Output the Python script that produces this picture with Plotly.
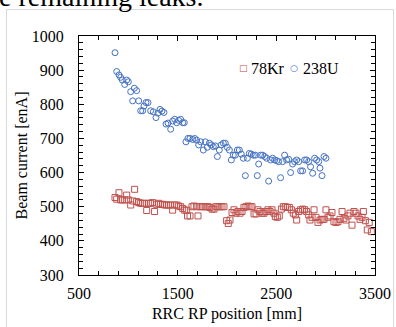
import plotly.graph_objects as go

# 238U (blue circles)
u_x = [865, 882, 905, 922, 939, 963, 983, 1000, 1024, 1044, 1061, 1084, 1105, 1125, 1145, 1159,
       1179, 1199, 1226, 1253, 1280, 1300, 1321, 1341, 1361, 1382, 1402, 1429, 1449, 1470, 1490,
       1510, 1530, 1551, 1567, 1584, 1604, 1625, 1652, 1672, 1692, 1713, 1733, 1760, 1780, 1800,
       1821, 1841, 1861, 1882, 1902, 1922, 1942, 1963, 1983, 2003, 2024, 2044, 2064, 2084, 2105,
       2125, 2145, 2165, 2186, 2206, 2226, 2246, 2267, 2287, 2307, 2321, 2341, 2361, 2382, 2402,
       2422, 2442, 2462, 2483, 2503, 2523, 2543, 2564, 2584, 2604, 2625, 2645, 2665, 2685, 2706,
       2726, 2746, 2766, 2787, 2807, 2827, 2847, 2868, 2888, 2908, 2929, 2942, 2963, 2983, 3003]
u_y = [951, 896, 886, 879, 871, 858, 871, 866, 837, 810, 847, 840, 810, 781, 781, 795,
       805, 805, 781, 778, 761, 774, 785, 780, 776, 742, 745, 727, 751, 756, 746,
       753, 756, 746, 746, 690, 700, 700, 697, 700, 695, 681, 690, 666, 690, 674,
       686, 681, 676, 678, 647, 666, 681, 686, 686, 674, 666, 637, 651, 651, 666,
       666, 654, 642, 591, 642, 656, 654, 651, 651, 591, 625, 651, 651, 647, 642,
       575, 637, 642, 637, 635, 632, 585, 632, 651, 637, 639, 600, 625, 632, 637,
       632, 605, 605, 637, 637, 632, 617, 598, 642, 637, 632, 613, 591, 647, 642]

# 78Kr (red squares)
kr_x = [865, 882, 905, 922, 939, 963, 983, 1000, 1024, 1044, 1064, 1084, 1105, 1125, 1145, 1166,
        1186, 1206, 1226, 1246, 1266, 1287, 1307, 1327, 1348, 1368, 1388, 1408, 1429, 1449, 1469,
        1490, 1510, 1530, 1551, 1571, 1591, 1600, 1625, 1645, 1665, 1692, 1706, 1726, 1746, 1767,
        1787, 1807, 1827, 1848, 1868, 1888, 1908, 1929, 1949, 1969, 1996, 2013, 2030, 2051, 2071,
        2091, 2111, 2132, 2152, 2172, 2192, 2213, 2233, 2253, 2274, 2294, 2314, 2334, 2355, 2375,
        2395, 2415, 2436, 2456, 2476, 2490, 2510, 2530, 2551, 2571, 2591, 2611, 2632, 2652, 2672,
        2693, 2706, 2726, 2746, 2767, 2787, 2807, 2828, 2841, 2862, 2882, 2902, 2922, 2943, 2963,
        2983, 3003, 3024, 3044, 3064, 3084, 3105, 3125, 3145, 3166, 3186, 3206, 3226, 3247, 3267,
        3287, 3307, 3328, 3348, 3368, 3382, 3402, 3422, 3442, 3463]
kr_y = [527, 522, 541, 520, 520, 520, 534, 520, 505, 517, 551, 515, 512, 510, 510, 510,
        489, 510, 510, 512, 486, 507, 510, 507, 507, 505, 505, 505, 505, 490, 505,
        505, 502, 500, 495, 490, 490, 473, 473, 500, 502, 500, 473, 500, 500, 500,
        500, 500, 498, 493, 493, 500, 500, 500, 500, 500, 459, 451, 461, 483, 491,
        481, 486, 481, 486, 498, 500, 502, 500, 500, 479, 479, 491, 486, 481, 481,
        486, 491, 486, 491, 481, 471, 469, 473, 493, 500, 500, 498, 498, 491, 481,
        476, 461, 486, 491, 493, 491, 486, 476, 461, 469, 491, 469, 454, 461, 463,
        463, 491, 469, 473, 483, 456, 454, 456, 463, 486, 466, 461, 473, 481, 446,
        486, 481, 473, 463, 469, 486, 459, 432, 454, 427]

series_names = ["78Kr", "238U"]
x_ticks = [500, 1500, 2500, 3500]
y_ticks = [300, 400, 500, 600, 700, 800, 900, 1000]

RED = "#C0504D"
BLUE = "#4472C4"
FONT = "Liberation Serif"

fig = go.Figure()
fig.add_trace(go.Scatter(x=kr_x, y=kr_y, mode="markers", name=series_names[0],
                         marker=dict(symbol="square-open", size=6, color=RED,
                                     line=dict(width=1, color=RED))))
fig.add_trace(go.Scatter(x=u_x, y=u_y, mode="markers", name=series_names[1],
                         marker=dict(symbol="circle-open", size=6, color=BLUE,
                                     line=dict(width=1, color=BLUE))))

W, H = 396, 327
L, R, T, B = 79, 21, 36, 52
pw, ph = W - L - R, H - T - B

def px(xp):
    return (xp - L) / pw

def py(yp):
    return (H - B - yp) / ph

# compact legend (symbol right next to its label)
legend_ann = []
for sym, col, name, sx, tx in [("□", RED, series_names[0], 243, 249),
                               ("○", BLUE, series_names[1], 294, 301)]:
    legend_ann.append(dict(text=sym, xref="paper", yref="paper", x=px(sx), y=py(68),
                           xanchor="center", yanchor="middle", showarrow=False,
                           font=dict(family="DejaVu Sans", size=9, color=col)))
    legend_ann.append(dict(text=name, xref="paper", yref="paper", x=px(tx), y=py(68),
                           xanchor="left", yanchor="middle", showarrow=False,
                           font=dict(family=FONT, size=16, color="black")))

fig.update_layout(
    width=W, height=H,
    margin=dict(l=L, r=R, t=T, b=B, autoexpand=False),
    paper_bgcolor="white", plot_bgcolor="white",
    font=dict(family=FONT, size=16, color="black"),
    showlegend=False,
    xaxis=dict(range=[500, 3500], tickvals=x_ticks, ticks="inside", ticklen=5,
               tickcolor="black", showline=True, linecolor="black", linewidth=1,
               mirror="allticks", showgrid=False, zeroline=False, ticklabelstandoff=4,
               automargin=False,
               minor=dict(dtick=200, tick0=500, ticks="inside", ticklen=4, tickcolor="black", showgrid=False),
               title=dict(text="RRC RP position [mm]", standoff=6, font=dict(size=16)),
               tickfont=dict(size=16), fixedrange=True),
    yaxis=dict(range=[300, 1000], tickvals=y_ticks, ticks="inside", ticklen=5,
               tickcolor="black", showline=True, linecolor="black", linewidth=1,
               mirror="allticks", showgrid=False, zeroline=False, ticklabelstandoff=11,
               automargin=False,
               minor=dict(dtick=20, tick0=300, ticks="inside", ticklen=4, tickcolor="black", showgrid=False),
               title=dict(text="Beam current [enA]", standoff=0, font=dict(size=16)),
               tickfont=dict(size=16), fixedrange=True),
    shapes=[dict(type="rect", xref="paper", yref="paper",
                 x0=px(6.5), x1=px(393.5), y0=py(340), y1=py(9.5),
                 line=dict(color="#d9d9d9", width=1), fillcolor="rgba(0,0,0,0)", layer="below")],
    annotations=[dict(text="e remaining leaks.", xref="paper", yref="paper",
                      x=px(-3), y=py(14), xanchor="left", yanchor="bottom",
                      showarrow=False, font=dict(family=FONT, size=28, color="black"))] + legend_ann,
)

fig.write_html("out.html", config={"displayModeBar": False},
               post_script="document.body.style.margin='0px';")
